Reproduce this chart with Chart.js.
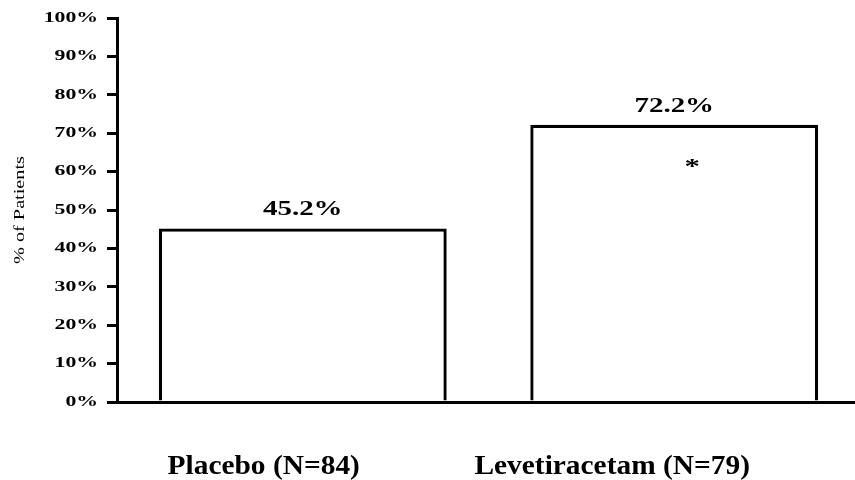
<!DOCTYPE html>
<html><head><meta charset="utf-8">
<script src="https://cdn.jsdelivr.net/npm/chart.js@4/dist/chart.umd.min.js"></script>
<style>html,body{margin:0;padding:0;background:#fff;overflow:hidden}canvas{display:block}</style>
</head><body>
<canvas id="c" width="860" height="480"></canvas>
<script>
const categories = ['Placebo (N=84)', 'Levetiracetam (N=79)'];
const patientPercent = [45.2, 72.2];
const significanceMarks = ['', '*'];
const yTickValues = [0, 10, 20, 30, 40, 50, 60, 70, 80, 90, 100];
const yAxisTitle = '% of Patients';

const SERIF = '"Liberation Serif", "Times New Roman", serif';

const stretchPlugin = {
  id: 'stretchText',
  beforeDraw(chart) {
    const y = chart.scales.y;
    if (!y.__wrapped) {
      const origLabels = y.drawLabels;
      y.drawLabels = function (ca) {
        const ctx = this.ctx;
        const ax = this.right - 10 - 9;
        ctx.save();
        ctx.translate(ax, 0); ctx.scale(1.5, 1); ctx.translate(-ax, 0);
        origLabels.call(this, ca);
        ctx.restore();
      };
      const origTitle = y.drawTitle;
      y.drawTitle = function () {
        const ctx = this.ctx;
        const cy = (this.top + this.bottom) / 2;
        ctx.save();
        ctx.translate(0, cy); ctx.scale(1, 1.35); ctx.translate(0, -cy);
        origTitle.call(this);
        ctx.restore();
      };
      y.__wrapped = true;
    }
    const x = chart.scales.x;
    if (!x.__wrapped) {
      const origX = x.drawLabels;
      x.drawLabels = function (ca) {
        const ctx = this.ctx;
        ctx.save();
        ctx.scale(1.05, 1);
        origX.call(this, ca);
        ctx.restore();
      };
      x.__wrapped = true;
    }
  }
};

const valueLabels = {
  id: 'valueLabels',
  afterDatasetsDraw(chart) {
    const ctx = chart.ctx;
    const meta = chart.getDatasetMeta(0);
    meta.data.forEach((bar, i) => {
      const v = patientPercent[i];
      ctx.save();
      ctx.font = 'bold 21px ' + SERIF;
      ctx.fillStyle = '#000';
      ctx.textAlign = 'center';
      ctx.textBaseline = 'alphabetic';
      ctx.translate(bar.x, bar.y - 13);
      ctx.scale(1.38, 1);
      ctx.fillText(v.toFixed(1) + '%', 0, 0);
      ctx.restore();
      if (significanceMarks[i]) {
        ctx.save();
        ctx.font = 'bold 22px ' + SERIF;
        ctx.fillStyle = '#000';
        ctx.textAlign = 'center';
        ctx.textBaseline = 'alphabetic';
        ctx.translate(bar.x + 18, bar.y + 48);
        ctx.scale(1.4, 1);
        ctx.fillText(significanceMarks[i], 0, 0);
        ctx.restore();
      }
    });
  }
};

new Chart(document.getElementById('c'), {
  type: 'bar',
  data: {
    labels: categories,
    datasets: [{
      data: patientPercent,
      backgroundColor: '#ffffff',
      borderColor: '#000000',
      borderWidth: 3.3,
      borderSkipped: 'start',
      barPercentage: 0.775,
      categoryPercentage: 1
    }]
  },
  options: {
    responsive: false,
    animation: false,
    devicePixelRatio: 1,
    layout: { padding: { top: 18, left: 0, right: 0, bottom: 0 } },
    plugins: { legend: { display: false }, tooltip: { enabled: false } },
    scales: {
      x: {
        offset: true,
        grid: { display: false, drawTicks: false },
        border: { display: true, color: '#000', width: 3 },
        ticks: { color: '#000', padding: 48, maxRotation: 0, autoSkip: false,
          align: 'end', labelOffset: 40,
          font: { family: SERIF, size: 28, weight: 'bold' } },
        afterFit: s => { s.height = 78; }
      },
      y: {
        min: 0, max: 100,
        afterBuildTicks: s => { s.ticks = yTickValues.map(v => ({ value: v })); },
        grid: { display: true, drawOnChartArea: false, drawTicks: true, tickLength: 10, color: '#000', lineWidth: 3 },
        border: { display: true, color: '#000', width: 3 },
        ticks: { color: '#000', padding: 9, font: { family: SERIF, size: 14.5, weight: 'bold' },
          callback: v => v + '%' },
        title: { display: true, text: yAxisTitle, color: '#000',
          font: { family: SERIF, size: 15, weight: 'normal' }, padding: { top: 11, bottom: 0 } },
        afterFit: s => { s.width = 117; }
      }
    }
  },
  plugins: [stretchPlugin, valueLabels]
});
</script>
</body></html>
